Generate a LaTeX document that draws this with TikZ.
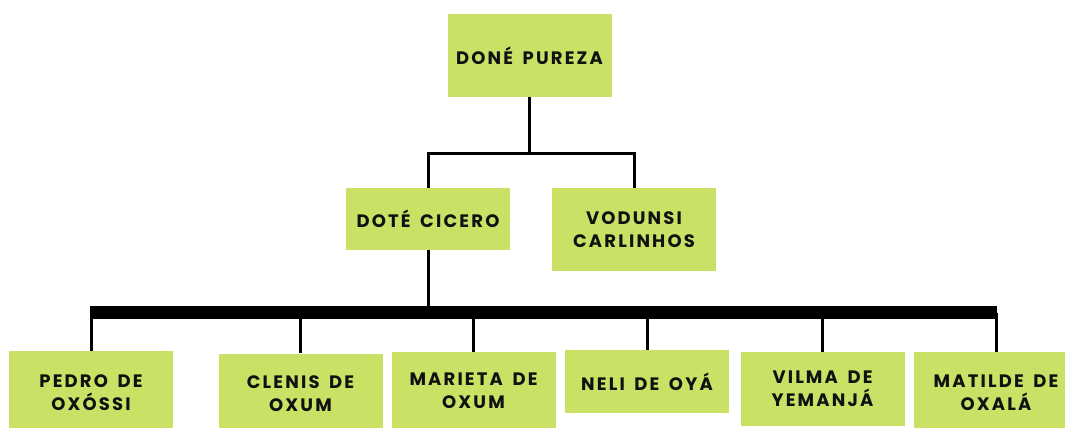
\documentclass[tikz,border=0pt]{standalone}
\usepackage{fontspec}
\newfontfamily\namefont{Poppins}[LetterSpace=12, WordSpace=1.6]
\definecolor{boxgreen}{RGB}{201,226,101}
\definecolor{nametext}{RGB}{17,17,17}
\begin{document}
\begin{tikzpicture}[x=0.75pt, y=-0.75pt,
  box/.style={fill=boxgreen, minimum width=123pt, inner sep=0pt, align=center,
    text=nametext, font=\namefont\bfseries\fontsize{13.5}{17.25}\selectfont},
  link/.style={line width=2.25pt},
  bar/.style={line width=9.75pt, shorten <=-1.1pt, shorten >=-1.1pt}]
\useasboundingbox (0,0) rectangle (1065,428);
% top
\node[box, minimum height=62.25pt] (mid0) at (529.5,55.5){DONÉ PUREZA};
\node[box, minimum height=46.5pt] (mid1) at (428,219){DOTÉ CICERO};
\node[box, minimum height=62.25pt] (mid2) at (634,229.5){VODUNSI\\CARLINHOS};
% bottom row
\node[box, minimum height=63pt] (mid3) at (91,393){PEDRO DE\\OXÓSSI};
\node[box, minimum height=60pt] (mid4) at (300.5,393.5){CLENIS DE\\OXUM};
\node[box, minimum height=58.5pt] (mid5) at (473.5,391){MARIETA DE\\OXUM};
\node[box, minimum height=47.25pt] (mid6) at (647,381.5){NELI DE OYÁ};
\node[box, minimum height=55.5pt] (mid7) at (822.5,389){VILMA DE\\YEMANJÁ};
\node[box, minimum height=61.5pt] (mid8) at (996,393){MATILDE DE\\OXALÁ};
\coordinate (split0) at (529.5,154);
\coordinate (split1) at (0,312.5);
\draw[link](mid0.south) -- (split0);
\draw[link](mid1.north) |- (split0) -| (mid2.north);
\draw[link](mid1.south) -- (mid1.south |- split1);
\draw[bar](mid3.north |- split1) -- (mid8.north |- split1);
\draw[link](mid3.north |- split1) -- (mid3.north);
\draw[link](mid4.north |- split1) -- (mid4.north);
\draw[link](mid5.north |- split1) -- (mid5.north);
\draw[link](mid6.north |- split1) -- (mid6.north);
\draw[link](mid7.north |- split1) -- (mid7.north);
\draw[link](mid8.north |- split1) -- (mid8.north);
\end{tikzpicture}
\end{document}
